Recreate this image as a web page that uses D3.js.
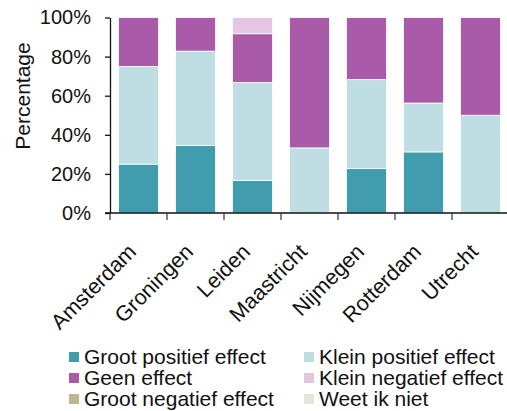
<!DOCTYPE html>
<html><head><meta charset="utf-8">
<script src="https://cdn.jsdelivr.net/npm/d3@7"></script>
<style>body{margin:0;background:#fff}svg{display:block;font-family:"Liberation Sans",Arial,sans-serif}</style>
</head><body><svg id="c" width="507" height="411"></svg>
<script>
const categories = ["Amsterdam","Groningen","Leiden","Maastricht","Nijmegen","Rotterdam","Utrecht"];
const seriesNames = ["Groot positief effect","Klein positief effect","Geen effect","Klein negatief effect","Groot negatief effect","Weet ik niet"];
const grootPositief = [25, 34.5, 16.7, 0, 22.7, 31.25, 0];
const kleinPositief = [50, 48.3, 50, 33.3, 45.5, 25, 50];
const geenEffect   = [25, 17.2, 25, 66.7, 31.8, 43.75, 50];
const kleinNegatief = [0, 0, 8.3, 0, 0, 0, 0];
const grootNegatief = [0, 0, 0, 0, 0, 0, 0];
const weetIkNiet   = [0, 0, 0, 0, 0, 0, 0];
const yTicks = [0, 20, 40, 60, 80, 100];
const colors = ["#419dae","#bfdee3","#a95ba9","#e4c6e3","#bcb692","#e8e6da"];

const series = [grootPositief,kleinPositief,geenEffect,kleinNegatief,grootNegatief,weetIkNiet];
const table = categories.map((c,i)=>{const o={cat:c}; seriesNames.forEach((s,j)=>o[s]=series[j][i]); return o;});
const stacked = d3.stack().keys(seriesNames)(table);

const svg = d3.select("#c");
const mLeft=110, mRight=509, mTop=17.5, mBottom=213;
const x = d3.scaleBand().domain(categories).range([mLeft,mRight]).paddingInner(0).paddingOuter(0);
const y = d3.scaleLinear().domain([0,100]).range([mBottom,mTop]);
const barW = 40;

svg.append("g").selectAll("g").data(stacked).join("g")
  .attr("fill",(d,i)=>colors[i])
  .selectAll("rect").data(d=>d).join("rect")
  .attr("x",d=>x(d.data.cat)+x.bandwidth()/2-barW/2)
  .attr("width",barW)
  .attr("y",d=>y(d[1]))
  .attr("height",d=>Math.max(0,y(d[0])-y(d[1])))
  .attr("stroke","#fff").attr("stroke-width",0.8);

// y axis
const ya = svg.append("g").attr("transform",`translate(${mLeft},0)`)
  .call(d3.axisLeft(y).tickValues(yTicks).tickFormat(d=>d+"%").tickSize(5).tickSizeOuter(0).tickPadding(14));
ya.selectAll("text").attr("font-size",20).attr("fill","#111").attr("font-family","Liberation Sans, Arial, sans-serif");
ya.selectAll("line,path").attr("stroke","#111").attr("stroke-width",1.3);

// x axis
const xa = svg.append("g").attr("transform",`translate(0,${mBottom})`);
xa.append("line").attr("x1",mLeft-5).attr("x2",507).attr("y1",0).attr("y2",0).attr("stroke","#111").attr("stroke-width",1.3);
xa.selectAll("line.t").data(categories).join("line").attr("class","t")
  .attr("x1",d=>x(d)).attr("x2",d=>x(d)).attr("y1",0).attr("y2",7)
  .attr("stroke","#333").attr("stroke-width",1.2);
svg.append("g").selectAll("text").data(categories).join("text")
  .attr("transform",d=>`translate(${x(d)+x.bandwidth()/2-1},253) rotate(-45)`)
  .attr("text-anchor","end").attr("font-size",21.5).attr("fill","#111").text(d=>d);

svg.append("text").attr("transform","translate(30,96) rotate(-90)").attr("text-anchor","middle")
  .attr("font-size",21).attr("fill","#111").text("Percentage");

// legend
const lg = svg.append("g");
seriesNames.forEach((s,i)=>{
  const col = i%2, row = Math.floor(i/2);
  const lx = col===0?69:304, ly = 352+row*21;
  lg.append("rect").attr("x",lx).attr("y",ly).attr("width",10).attr("height",10).attr("fill",colors[i]);
  lg.append("text").attr("x",lx+15).attr("y",ly+12).attr("font-size",21).attr("fill","#111").text(s);
});
</script></body></html>
